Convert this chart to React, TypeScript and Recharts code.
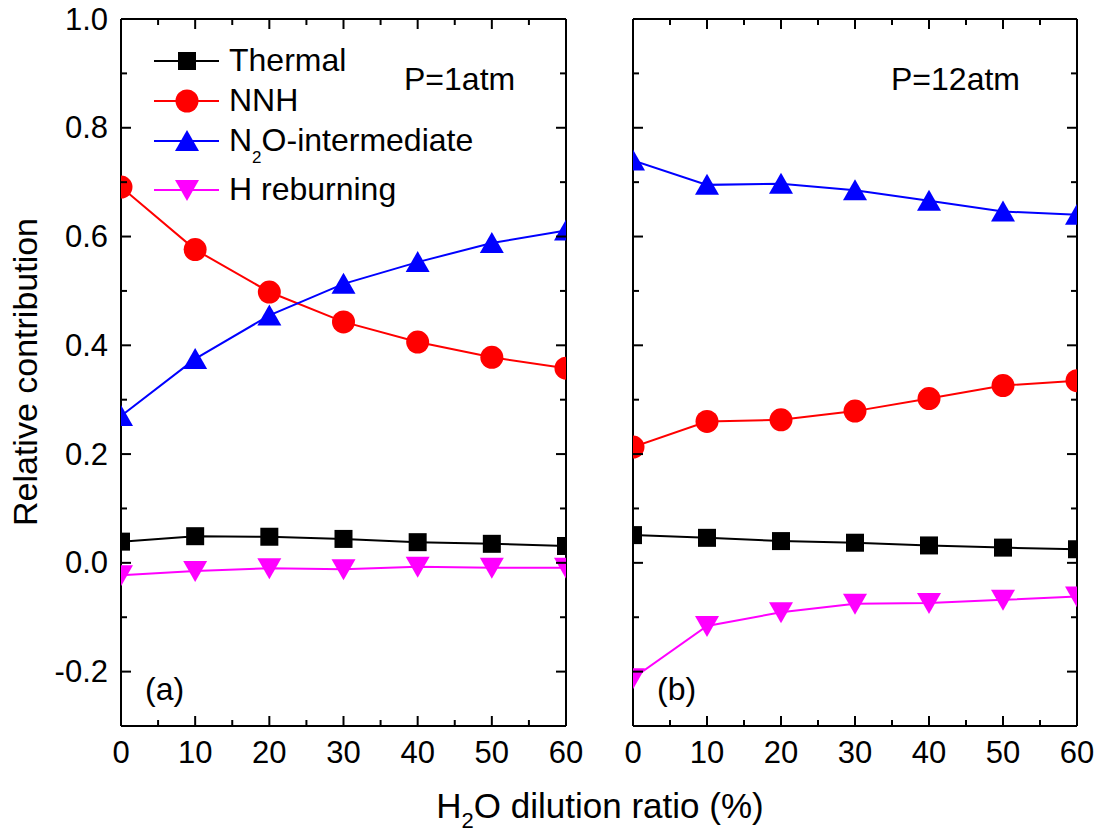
import React from 'react';
import { LineChart, Line, XAxis, YAxis, Legend } from 'recharts';

const FONT = '"Liberation Sans", Arial, Helvetica, sans-serif';

// ---- data ----
const dilution = [0, 10, 20, 30, 40, 50, 60];

// P = 1 atm (panel a)
const thermal1 = [0.039, 0.049, 0.048, 0.044, 0.038, 0.035, 0.031];
const nnh1 = [0.691, 0.576, 0.498, 0.443, 0.406, 0.378, 0.358];
const n2o1 = [0.27, 0.375, 0.455, 0.513, 0.553, 0.588, 0.611];
const hreb1 = [-0.023, -0.015, -0.01, -0.012, -0.007, -0.009, -0.009];

// P = 12 atm (panel b)
const thermal12 = [0.051, 0.046, 0.04, 0.037, 0.032, 0.028, 0.025];
const nnh12 = [0.213, 0.26, 0.263, 0.279, 0.302, 0.326, 0.335];
const n2o12 = [0.74, 0.695, 0.697, 0.685, 0.666, 0.646, 0.64];
const hreb12 = [-0.212, -0.116, -0.091, -0.075, -0.074, -0.068, -0.062];

// ---- ticks ----
const xTicks = [0, 5, 10, 15, 20, 25, 30, 35, 40, 45, 50, 55, 60];
const xMajorTicks = [0, 10, 20, 30, 40, 50, 60];
const yTicks = [-0.2, -0.1, 0, 0.1, 0.2, 0.3, 0.4, 0.5, 0.6, 0.7, 0.8, 0.9, 1.0];
const yMajorTicks = [-0.2, 0, 0.2, 0.4, 0.6, 0.8, 1.0];
const xDomain = [0, 60];
const yDomain = [-0.3, 1.0];

type ShapeKind = 'square' | 'circle' | 'triUp' | 'triDown';

const seriesDefs: { key: string; name: string; color: string; shape: ShapeKind }[] = [
  { key: 'thermal', name: 'Thermal', color: '#000000', shape: 'square' },
  { key: 'nnh', name: 'NNH', color: '#FF0000', shape: 'circle' },
  { key: 'n2o', name: 'N2O-intermediate', color: '#0000FF', shape: 'triUp' },
  { key: 'hreb', name: 'H reburning', color: '#FF00FF', shape: 'triDown' },
];

const buildRows = (t: number[], n: number[], o: number[], h: number[]) =>
  dilution.map((x, i) => ({ x, thermal: t[i], nnh: n[i], n2o: o[i], hreb: h[i] }));

const dataA = buildRows(thermal1, nnh1, n2o1, hreb1);
const dataB = buildRows(thermal12, nnh12, n2o12, hreb12);

// ---- layout ----
const CHART_H = 834;
const MARGIN_TOP = 17;
const TOP_AXIS_H = 2;
const BOTTOM_AXIS_H = 60;
const MARGIN_BOTTOM = 48;
const RIGHT_AXIS_W = 4;

function Marker({ shape, cx, cy, color }: { shape: ShapeKind; cx: number; cy: number; color: string }) {
  if (cx == null || cy == null || isNaN(cx) || isNaN(cy)) return null;
  switch (shape) {
    case 'square':
      return <rect x={cx - 9} y={cy - 9} width={18} height={18} fill={color} />;
    case 'circle':
      return <circle cx={cx} cy={cy} r={11.5} fill={color} />;
    case 'triUp':
      return <polygon points={`${cx - 12},${cy + 10} ${cx + 12},${cy + 10} ${cx},${cy - 11}`} fill={color} />;
    case 'triDown':
      return <polygon points={`${cx - 12},${cy - 10} ${cx + 12},${cy - 10} ${cx},${cy + 11}`} fill={color} />;
  }
  return null;
}

const isMajorX = (v: number) => xMajorTicks.some((m) => Math.abs(m - v) < 1e-6);
const isMajorY = (v: number) => yMajorTicks.some((m) => Math.abs(m - v) < 1e-6);

function makeTick(side: 'bottom' | 'top' | 'left' | 'right', showLabels: boolean) {
  return (props: any) => {
    const { x, y, payload } = props;
    const v = payload.value;
    const major = side === 'bottom' || side === 'top' ? isMajorX(v) : isMajorY(v);
    const len = major ? 10 : 6;
    let line: React.ReactNode = null;
    let label: React.ReactNode = null;
    const st = { stroke: '#000', strokeWidth: 2 };
    if (side === 'bottom') {
      line = <line x1={x} y1={y} x2={x} y2={y - len} {...st} />;
      if (showLabels && major)
        label = (
          <text x={x} y={y + 37} textAnchor="middle" fontSize={31} fontFamily={FONT} fill="#000">
            {String(v)}
          </text>
        );
    } else if (side === 'top') {
      line = <line x1={x} y1={y} x2={x} y2={y + len} {...st} />;
    } else if (side === 'left') {
      line = <line x1={x} y1={y} x2={x + len} y2={y} {...st} />;
      if (showLabels && major)
        label = (
          <text x={x - 13} y={y + 10.5} textAnchor="end" fontSize={31} fontFamily={FONT} fill="#000">
            {Number(v).toFixed(1)}
          </text>
        );
    } else {
      line = <line x1={x} y1={y} x2={x - len} y2={y} {...st} />;
    }
    return (
      <g>
        {line}
        {label}
      </g>
    );
  };
}

const legendRowY = [21, 61, 101, 150];

function LegendContent() {
  return (
    <svg width={280} height={175} style={{ display: 'block', overflow: 'visible' }}>
      {seriesDefs.map((s, i) => {
        const cy = legendRowY[i];
        return (
          <g key={s.key}>
            <line x1={4} y1={cy} x2={69} y2={cy} stroke={s.color} strokeWidth={2} />
            <Marker shape={s.shape} cx={37} cy={cy} color={s.color} />
            {s.key === 'n2o' ? (
              <text x={79} y={cy + 10} fontSize={32} fontFamily={FONT} fill="#000">
                N
                <tspan fontSize={17} dy={12}>2</tspan>
                <tspan dy={-12}>O-intermediate</tspan>
              </text>
            ) : (
              <text x={79} y={cy + 10} fontSize={32} fontFamily={FONT} fill="#000">
                {s.name}
              </text>
            )}
          </g>
        );
      })}
    </svg>
  );
}

function Panel({
  id,
  data,
  width,
  leftWidth,
  marginRight,
  showYLabels,
  showLegend,
}: {
  id: string;
  data: any[];
  width: number;
  leftWidth: number;
  marginRight: number;
  showYLabels: boolean;
  showLegend: boolean;
}) {
  const axisLine = { stroke: '#000', strokeWidth: 2 };
  // plot rectangle derived from the chart margins and axis sizes (used to clip markers at the frame)
  const plotX = leftWidth;
  const plotY = MARGIN_TOP + TOP_AXIS_H;
  const plotW = width - marginRight - RIGHT_AXIS_W - leftWidth;
  const plotH = CHART_H - MARGIN_BOTTOM - BOTTOM_AXIS_H - plotY;
  return (
    <LineChart
      width={width}
      height={CHART_H}
      data={data}
      margin={{ top: MARGIN_TOP, right: marginRight, bottom: MARGIN_BOTTOM, left: 0 }}
    >
      <XAxis
        xAxisId="b"
        dataKey="x"
        type="number"
        domain={xDomain}
        ticks={xTicks}
        interval={0}
        allowDataOverflow
        orientation="bottom"
        height={BOTTOM_AXIS_H}
        tickSize={0}
        tickMargin={0}
        tickLine={false}
        axisLine={axisLine}
        tick={makeTick('bottom', true)}
      />
      <XAxis
        xAxisId="t"
        dataKey="x"
        type="number"
        domain={xDomain}
        ticks={xTicks}
        interval={0}
        allowDataOverflow
        orientation="top"
        height={TOP_AXIS_H}
        tickSize={0}
        tickMargin={0}
        tickLine={false}
        axisLine={axisLine}
        tick={makeTick('top', false)}
      />
      <YAxis
        yAxisId="l"
        type="number"
        domain={yDomain}
        ticks={yTicks}
        interval={0}
        allowDataOverflow
        orientation="left"
        width={leftWidth}
        tickSize={0}
        tickMargin={0}
        tickLine={false}
        axisLine={axisLine}
        tick={makeTick('left', showYLabels)}
      />
      <YAxis
        yAxisId="r"
        type="number"
        domain={yDomain}
        ticks={yTicks}
        interval={0}
        allowDataOverflow
        orientation="right"
        width={RIGHT_AXIS_W}
        tickSize={0}
        tickMargin={0}
        tickLine={false}
        axisLine={axisLine}
        tick={makeTick('right', false)}
      />
      {seriesDefs.map((s) => (
        <Line
          key={s.key}
          xAxisId="b"
          yAxisId="l"
          type="linear"
          dataKey={s.key}
          name={s.name}
          stroke={s.color}
          strokeWidth={2}
          isAnimationActive={false}
          activeDot={false}
          dot={(p: any) => {
            const cid = `clip-${id}-${s.key}-${p.index}`;
            return (
              <g key={`${s.key}-${p.index}`}>
                <defs>
                  <clipPath id={cid}>
                    <rect x={plotX} y={plotY} width={plotW} height={plotH} />
                  </clipPath>
                </defs>
                <g clipPath={`url(#${cid})`}>
                  <Marker shape={s.shape} cx={p.cx} cy={p.cy} color={s.color} />
                </g>
              </g>
            );
          }}
        />
      ))}
      {showLegend && (
        <Legend
          layout="vertical"
          align="center"
          verticalAlign="middle"
          content={<LegendContent />}
          wrapperStyle={{ left: 150, top: 40, width: 280, height: 175 }}
        />
      )}
    </LineChart>
  );
}

export default function App() {
  return (
    <div style={{ position: 'absolute', left: 0, top: 0, width: 1101, height: 834, background: '#fff', fontFamily: FONT }}>
      <div style={{ position: 'absolute', left: 0, top: 0 }}>
        <Panel id="a" data={dataA} width={600} leftWidth={121} marginRight={30} showYLabels={true} showLegend={true} />
      </div>
      <div style={{ position: 'absolute', left: 600, top: 0 }}>
        <Panel id="b" data={dataB} width={501} leftWidth={33} marginRight={20} showYLabels={false} showLegend={false} />
      </div>
      <svg
        width={1101}
        height={834}
        style={{ position: 'absolute', left: 0, top: 0, pointerEvents: 'none' }}
      >
        <text
          transform="rotate(-90)"
          x={-372}
          y={37}
          textAnchor="middle"
          fontSize={34}
          fontFamily={FONT}
          fill="#000"
        >
          Relative contribution
        </text>
        <text x={600} y={818} textAnchor="middle" fontSize={35} fontFamily={FONT} fill="#000">
          H<tspan fontSize={22} dy={10}>2</tspan>
          <tspan dy={-10}>O dilution ratio (%)</tspan>
        </text>
        <text x={404} y={90} fontSize={32} fontFamily={FONT} fill="#000">P=1atm</text>
        <text x={891} y={90} fontSize={32} fontFamily={FONT} fill="#000">P=12atm</text>
        <text x={145} y={700} fontSize={32} fontFamily={FONT} fill="#000">(a)</text>
        <text x={657} y={700} fontSize={32} fontFamily={FONT} fill="#000">(b)</text>
      </svg>
    </div>
  );
}
